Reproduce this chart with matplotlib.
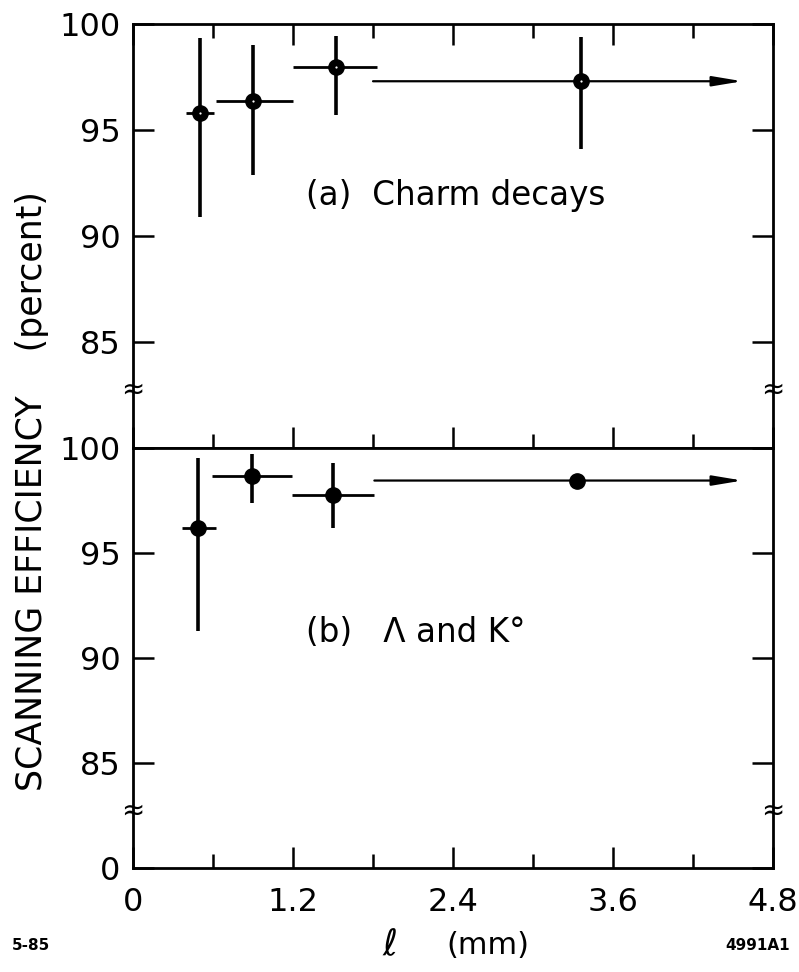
import matplotlib
matplotlib.use("Agg")
import matplotlib.pyplot as plt

plt.rcParams["font.family"] = ["DejaVu Sans"]

# (a) charm decays
x_a = [0.50, 0.90, 1.52, 3.36]
y_a = [95.8, 96.35, 97.97, 97.3]
ylo_a = [90.9, 92.9, 95.7, 94.1]
yhi_a = [99.35, 99.0, 99.45, 99.4]
bin_lo_a = [0.40, 0.62, 1.20, 1.80]
bin_hi_a = [0.61, 1.20, 1.83, 4.57]

# (b) lambda and K0
x_b = [0.49, 0.89, 1.50, 3.33]
y_b = [96.2, 98.65, 97.75, 98.45]
ylo_b = [91.3, 97.4, 96.2, 98.45]
yhi_b = [99.5, 99.7, 99.3, 98.45]
bin_lo_b = [0.37, 0.59, 1.19, 1.81]
bin_hi_b = [0.62, 1.19, 1.81, 4.57]

x_ticks = [0, 1.2, 2.4, 3.6, 4.8]
x_minor = [0.6, 1.8, 3.0, 4.2]
x_labels = ["0", "1.2", "2.4", "3.6", "4.8"]
y_ticks = [80, 85, 90, 95, 100]
y_labels_a = ["", "85", "90", "95", "100"]
y_labels_b = ["0", "85", "90", "95", "100"]
BREAK_AT = 82.75

fig = plt.figure(figsize=(7.99, 9.72), dpi=100)
ax_a = fig.add_axes([0.1665, 0.5391, 0.801, 0.4362])
ax_b = fig.add_axes([0.1665, 0.1070, 0.801, 0.4321])


def draw_panel(ax, x, y, ylo, yhi, blo, bhi, dotted):
    n = len(x)
    ax.vlines(x, ylo, yhi, color="black", lw=2.6)
    ax.hlines(y[:n - 1], blo[:n - 1], bhi[:n - 1], color="black", lw=2.0)
    ax.annotate("", xy=(bhi[-1], y[-1]), xytext=(blo[-1], y[-1]),
                arrowprops=dict(arrowstyle="-|>,head_length=1.8,head_width=0.3",
                                lw=1.6, color="black", shrinkA=0, shrinkB=0))
    ax.plot(x, y, "o", color="black", ms=11, zorder=5)
    if dotted:
        ax.plot(x, y, "o", color="white", ms=1.6, mew=0, zorder=6)

    ax.set_xlim(0, 4.8)
    ax.set_ylim(80, 100)
    ax.set_xticks(x_ticks)
    ax.set_xticks(x_minor, minor=True)
    ax.set_yticks(y_ticks)
    for s in ax.spines.values():
        s.set_linewidth(2.0)
    ax.tick_params(axis="both", which="major", direction="in", length=15, width=1.8,
                   labelsize=23, right=True)
    ax.tick_params(axis="x", which="minor", direction="in", length=10, width=1.8)
    ax.tick_params(axis="y", which="major", pad=9)
    for xs in (0.0, 1.0):
        ax.text(xs, BREAK_AT, "\u2248", transform=ax.get_yaxis_transform(),
                ha="center", va="center", fontsize=20, clip_on=False)


draw_panel(ax_a, x_a, y_a, ylo_a, yhi_a, bin_lo_a, bin_hi_a, True)
draw_panel(ax_b, x_b, y_b, ylo_b, yhi_b, bin_lo_b, bin_hi_b, False)

ax_a.tick_params(axis="x", which="both", top=True, bottom=True, labelbottom=False)
ax_a.set_yticklabels(y_labels_a)
ax_b.tick_params(axis="x", which="both", top=False, bottom=True)
ax_b.tick_params(axis="x", which="major", pad=14)
ax_b.set_xticklabels(x_labels)
ax_b.set_yticklabels(y_labels_b)

ax_a.text(1.30, 91.9, "(a)  Charm decays", fontsize=23.5, va="center")
ax_b.text(1.30, 91.2, "(b)   \u039b and K\u00b0", fontsize=23.5, va="center")

fig.text(32 / 799, 1 - 491 / 972, "SCANNING EFFICIENCY    (percent)",
         rotation=90, ha="center", va="center", fontsize=25)
fig.text(390 / 799, 1 - 945 / 972, "$\\ell$", fontsize=26, ha="center", va="center",
         fontweight="bold")
fig.text(488 / 799, 1 - 945 / 972, "(mm)", fontsize=22, ha="center", va="center")
fig.text(12 / 799, 1 - 945 / 972, "5-85", fontsize=11, fontweight="bold",
         ha="left", va="center")
fig.text(790 / 799, 1 - 945 / 972, "4991A1", fontsize=11, fontweight="bold",
         ha="right", va="center")

fig.savefig("out.png", dpi=100)
